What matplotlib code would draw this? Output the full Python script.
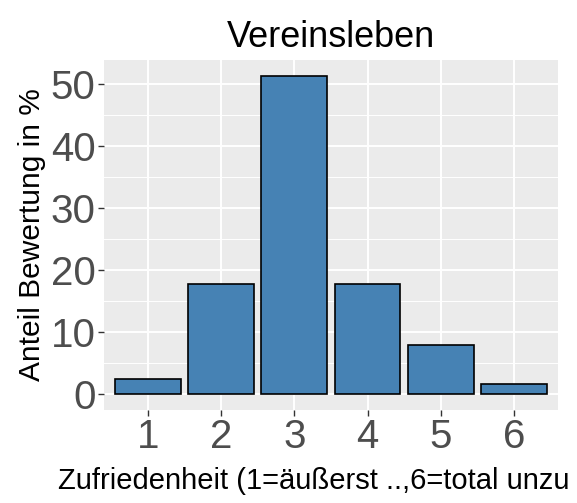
import numpy as np
import matplotlib.pyplot as plt
from matplotlib.ticker import MultipleLocator

plt.rcParams['font.family'] = ['Liberation Sans', 'DejaVu Sans']

kategorien = ["1", "2", "3", "4", "5", "6"]
anteil = [2.5, 17.8, 51.3, 17.8, 7.9, 1.6]

fig = plt.figure(figsize=(5.77, 5.03), dpi=100)
ax = fig.add_axes([0.180, 0.185, 0.787, 0.696])
ax.set_facecolor("#EBEBEB")

x = np.arange(1, len(kategorien) + 1)
ax.bar(x, anteil, width=0.9, color="#4682B4", edgecolor="black", linewidth=1.2, zorder=3)

ax.set_xlim(0.4, 6.6)
ax.set_ylim(-2.57, 53.9)
ax.set_xticks(x)
ax.set_xticklabels(kategorien)
ax.set_yticks([0, 10, 20, 30, 40, 50])
ax.yaxis.set_minor_locator(MultipleLocator(5))

ax.grid(which="major", color="white", linewidth=1.4, zorder=0)
ax.grid(which="minor", axis="y", color="white", linewidth=0.7, zorder=0)
ax.set_axisbelow(True)
for s in ax.spines.values():
    s.set_visible(False)

ax.tick_params(axis="both", which="major", length=4, width=1, color="#333333",
               labelsize=29, labelcolor="#4D4D4D", pad=2)
ax.tick_params(axis="y", which="minor", length=0)

ax.set_title("Vereinsleben", fontsize=26, pad=9)
ax.set_ylabel("Anteil Bewertung in %", fontsize=21.5, labelpad=3)
# im Original am rechten Rand abgeschnitten -> sichtbarer Teil
ax.set_xlabel("Zufriedenheit (1=äußerst ..,6=total unzu", fontsize=21.0, ha="left")
ax.xaxis.set_label_coords(-0.1, -0.163)

fig.savefig("out.png", dpi=100)
